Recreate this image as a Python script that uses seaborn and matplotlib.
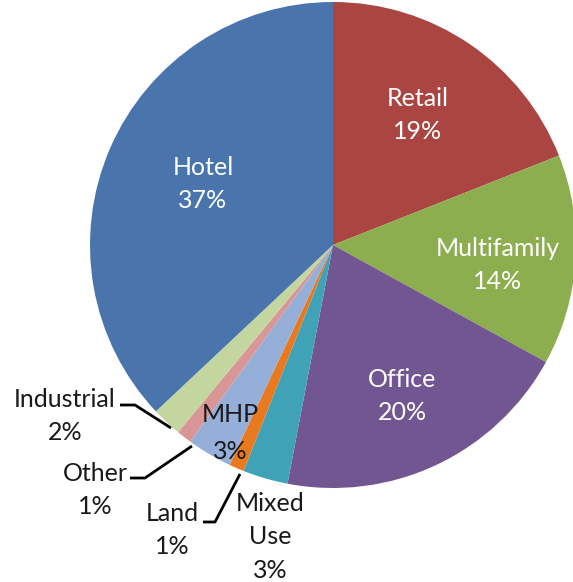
import matplotlib
matplotlib.use("Agg")
import matplotlib.pyplot as plt
import seaborn as sns

categories = ["Retail", "Multifamily", "Office", "Mixed Use", "Land", "MHP", "Other", "Industrial", "Hotel"]
values = [19, 14, 20, 3, 1, 3, 1, 2, 37]
label_texts = ["Retail\n19%", "Multifamily\n14%", "Office\n20%", "Mixed\nUse\n3%", "Land\n1%",
               "MHP\n3%", "Other\n1%", "Industrial\n2%", "Hotel\n37%"]

sns.set_theme(style="white")
plt.rcParams['font.family'] = ['Lato', 'DejaVu Sans']

colors = ["#AA4542", "#8DAE4E", "#725692", "#3FA2B7", "#E8791E", "#95AFD8", "#D89796", "#C3D6A0", "#4A74AC"]

W, H = 573, 582
cx, cy, R = 333, 245, 243
fig = plt.figure(figsize=(W / 100, H / 100), dpi=100)
ax = fig.add_axes([0, 0, 1, 1])
ax.pie(values, colors=colors, startangle=90, counterclock=False, radius=1,
       wedgeprops=dict(linewidth=0))
ax.set_xlim(-cx / R, (W - cx) / R)
ax.set_ylim(-(H - cy) / R, cy / R)
ax.set_aspect("equal")
ax.axis("off")

def d(px, py):
    return ((px - cx) / R, (cy - py) / R)

# label positions (pixel coords) and colours
pos = {
    "Retail": ((418, 115), "white", 1.5),
    "Multifamily": ((498, 265), "white", 1.5),
    "Office": ((402, 396), "white", 1.5),
    "Mixed Use": ((270, 537), "#1a1a1a", 1.55),
    "Land": ((172, 530), "#1a1a1a", 1.55),
    "MHP": ((230, 433), "#1a1a1a", 1.7),
    "Other": ((95, 490), "#1a1a1a", 1.5),
    "Industrial": ((65, 416), "#1a1a1a", 1.5),
    "Hotel": ((203, 184), "white", 1.5),
}
for cat, txt in zip(categories, label_texts):
    (px, py), c, ls = pos[cat]
    x, y = d(px, py)
    ax.text(x, y, txt, ha="center", va="center", color=c, fontsize=18,
            linespacing=ls, multialignment="center")

leaders = [
    [(120, 405), (135, 405), (171, 428)],
    [(130, 478), (145, 478), (192, 446)],
    [(203, 522), (215, 522), (240, 474)],
]
for pts in leaders:
    xs, ys = zip(*[d(*p) for p in pts])
    ax.plot(xs, ys, color="black", linewidth=2.0, solid_capstyle="butt")

fig.savefig("out.png", dpi=100)
